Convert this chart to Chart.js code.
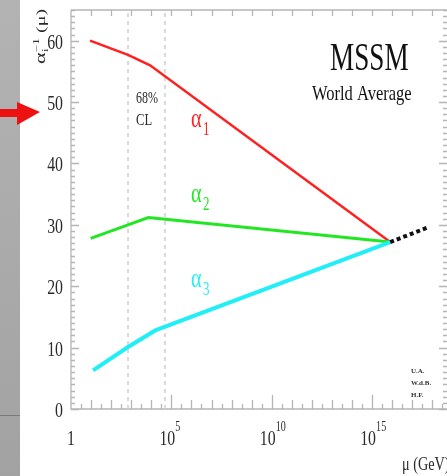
<!DOCTYPE html>
<html>
<head>
<meta charset="utf-8">
<script src="https://cdn.jsdelivr.net/npm/chart.js@4.4.0/dist/chart.umd.min.js"></script>
<style>
  body { margin: 0; background: #fff; }
  #wrap { width: 447px; height: 476px; position: relative; }
</style>
</head>
<body>
<div id="wrap"><canvas id="gut"></canvas></div>
<script>
// log10(mu / GeV) and inverse couplings
const muA1 = [0.95, 2.84, 3.94, 15.9];
const invA1 = [60, 57.7, 56, 27.2];
const muA2 = [0.98, 2.84, 3.85, 15.9];
const invA2 = [27.8, 30.0, 31.2, 27.2];
const muA3 = [1.1, 2.84, 4.2, 15.9];
const invA3 = [6.3, 10.1, 12.8, 27.2];
// extrapolation beyond unification
const muExt = [15.9, 17.8];
const invExt = [27.2, 29.6];
// 68% CL band edges
const clEdges = [2.84, 4.68];

const yTickValues = [0, 10, 20, 30, 40, 50, 60];
const xTickPowers = [0, 5, 10, 15];

const pts = (xs, ys) => xs.map((x, i) => ({ x: x, y: ys[i] }));

// draw text squeezed horizontally, like the scanned original
function sText(ctx, txt, x, y, size, color, align, sx) {
  ctx.save();
  ctx.translate(x, y);
  ctx.scale(sx || 0.72, 1);
  ctx.font = size + 'px "Liberation Serif", "DejaVu Serif", serif';
  ctx.fillStyle = color;
  ctx.textAlign = align || 'left';
  ctx.textBaseline = 'alphabetic';
  ctx.fillText(txt, 0, 0);
  ctx.restore();
}

const decor = {
  id: 'decor',
  beforeDraw(chart) {
    const ctx = chart.ctx;
    ctx.save();
    ctx.fillStyle = '#fff';
    ctx.fillRect(0, 0, chart.width, chart.height);
    // grey slide edge on the left
    const g = ctx.createLinearGradient(0, 0, 0, chart.height);
    g.addColorStop(0, '#b3b3b3');
    g.addColorStop(1, '#a2a2a2');
    ctx.fillStyle = g;
    ctx.fillRect(0, 0, 20, chart.height);
    ctx.fillStyle = '#7a7a7a';
    ctx.fillRect(0, 415, 20, 1);
    // red pointer arrow
    ctx.fillStyle = '#ee1111';
    ctx.fillRect(0, 109, 18, 8);
    ctx.beginPath();
    ctx.moveTo(17, 102);
    ctx.lineTo(40, 112);
    ctx.lineTo(17, 125);
    ctx.closePath();
    ctx.fill();
    ctx.restore();
  },
  beforeDatasetsDraw(chart) {
    const ctx = chart.ctx;
    const xs = chart.scales.x, ys = chart.scales.y;
    const { left, right, top, bottom } = chart.chartArea;
    ctx.save();
    ctx.strokeStyle = '#b5b5b5';
    ctx.lineWidth = 1.3;
    ctx.beginPath();
    ctx.moveTo(left, top); ctx.lineTo(left, bottom); ctx.lineTo(right, bottom);
    ctx.moveTo(left, top); ctx.lineTo(right, top);
    for (let v = 0; v <= 65; v++) {
      const p = Math.round(ys.getPixelForValue(v)) + 0.5;
      const len = v % 10 === 0 ? 8 : 4;
      ctx.moveTo(left, p); ctx.lineTo(left + len, p);
      ctx.moveTo(right, p); ctx.lineTo(right - len, p);
    }
    for (let v = 0.5; v <= 18.5; v += 0.5) {
      const p = Math.round(xs.getPixelForValue(v)) + 0.5;
      const len = v % 5 === 0 ? 14 : (Number.isInteger(v) ? 9 : 5);
      ctx.moveTo(p, bottom); ctx.lineTo(p, bottom - len);
      if (Number.isInteger(v)) { ctx.moveTo(p, top); ctx.lineTo(p, top + 6); }
    }
    ctx.stroke();
    ctx.restore();
  },
  afterDraw(chart) {
    const ctx = chart.ctx;
    const xs = chart.scales.x, ys = chart.scales.y;
    const ink = '#2a2a2a';
    // y tick labels
    yTickValues.forEach(v => {
      sText(ctx, String(v), 63, ys.getPixelForValue(v) + 8, 22, ink, 'right');
    });
    // x tick labels with exponents
    xTickPowers.forEach(pw => {
      const px = xs.getPixelForValue(pw);
      if (pw === 0) {
        sText(ctx, '1', px, 445, 22, ink, 'center');
      } else {
        sText(ctx, '10', px - 4, 445, 22, ink, 'center');
        sText(ctx, String(pw), px + 4, 431, 14, ink, 'left');
      }
    });
    sText(ctx, '\u03bc (GeV)', 402, 470, 19, ink, 'left', 0.75);

    // y axis title, rotated
    ctx.save();
    ctx.translate(45, 64);
    ctx.rotate(-Math.PI / 2);
    ctx.scale(1, 0.62);
    ctx.fillStyle = ink;
    ctx.font = '22px "Liberation Serif", serif';
    ctx.fillText('\u03b1', 0, 0);
    ctx.font = '13px "Liberation Serif", serif';
    ctx.fillText('i', 12, 5);
    ctx.fillText('\u22121', 12, -9);
    ctx.font = '20px "Liberation Serif", serif';
    ctx.fillText('(\u03bc)', 31, 0);
    ctx.restore();

    // annotations
    sText(ctx, 'MSSM', 330, 70, 40, '#111', 'left', 0.68);
    sText(ctx, 'World Average', 312, 100, 22, '#111', 'left', 0.75);
    sText(ctx, '68%', 136, 103, 16, ink, 'left', 0.75);
    sText(ctx, 'CL', 136, 125, 17, ink, 'left', 0.74);

    sText(ctx, '\u03b1', 191, 127, 28, '#ff2020', 'left');
    sText(ctx, '1', 203, 135, 18, '#ff2020', 'left');
    sText(ctx, '\u03b1', 191, 202, 28, '#22e622', 'left');
    sText(ctx, '2', 203, 210, 18, '#22e622', 'left');
    sText(ctx, '\u03b1', 191, 287, 28, '#22eef8', 'left');
    sText(ctx, '3', 203, 295, 18, '#22eef8', 'left');

    ctx.save();
    ctx.font = 'bold 7px "Liberation Serif", serif';
    ctx.fillStyle = '#333';
    ctx.fillText('U.A.', 411, 373);
    ctx.fillText('W.d.B.', 411, 385);
    ctx.fillText('H.F.', 411, 397);
    ctx.restore();
  }
};

new Chart(document.getElementById('gut').getContext('2d'), {
  type: 'scatter',
  data: {
    datasets: [
      { data: pts(muExt, invExt), borderColor: '#111', borderWidth: 4, borderDash: [4, 3] },
      { data: pts(muA3, invA3), borderColor: '#22eef8', borderWidth: 4 },
      { data: pts(muA2, invA2), borderColor: '#22e622', borderWidth: 3 },
      { data: pts(muA1, invA1), borderColor: '#ff2020', borderWidth: 2.5 },
      { data: [{ x: clEdges[0], y: 0 }, { x: clEdges[0], y: 65 }], borderColor: '#cfcfcf', borderWidth: 1.5, borderDash: [4, 4] },
      { data: [{ x: clEdges[1], y: 0 }, { x: clEdges[1], y: 65 }], borderColor: '#cfcfcf', borderWidth: 1.5, borderDash: [4, 4] }
    ].map(d => Object.assign({ showLine: true, pointRadius: 0, fill: false, tension: 0 }, d))
  },
  options: {
    responsive: true,
    maintainAspectRatio: false,
    animation: false,
    layout: { padding: { top: 10, right: 0, left: 0, bottom: 0 } },
    plugins: { legend: { display: false }, tooltip: { enabled: false } },
    scales: {
      x: {
        type: 'linear', min: 0, max: 18.73,
        ticks: { display: false },
        grid: { display: false },
        border: { display: false },
        afterFit(s) { s.height = 67; }
      },
      y: {
        min: 0, max: 65,
        ticks: { display: false, stepSize: 10 },
        grid: { display: false },
        border: { display: false },
        afterFit(s) { s.width = 71; }
      }
    }
  },
  plugins: [decor]
});
</script>
</body>
</html>
